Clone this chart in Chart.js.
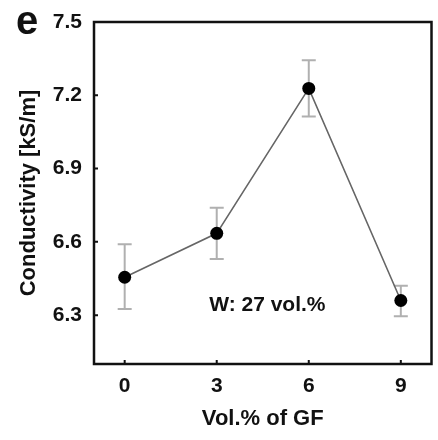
<!DOCTYPE html>
<html>
<head>
<meta charset="utf-8">
<script src="https://cdn.jsdelivr.net/npm/chart.js@4"></script>
<style>
  html, body { margin: 0; padding: 0; background: #fff; overflow: hidden; }
  #wrap { width: 438px; height: 440px; position: relative; }
</style>
</head>
<body>
<div id="wrap"><canvas id="c"></canvas></div>
<script>
// values
const gfVol = [0, 3, 6, 9];
const conductivity = [6.455, 6.635, 7.228, 6.36];
const errLow = [0.13, 0.105, 0.115, 0.065];
const errHigh = [0.135, 0.105, 0.115, 0.06];
const yTicks = [6.3, 6.6, 6.9, 7.2, 7.5];
const xTicks = [0, 3, 6, 9];
const panelLetter = 'e';
const noteText = 'W: 27 vol.%';
const notePos = { x: 4.65, y: 6.34 };

const FONT = "'Liberation Sans', Arial, sans-serif";

// frame, inward ticks, error bars, labels
const decor = {
  id: 'decor',
  beforeDatasetsDraw(chart) {
    const { ctx, scales: { x, y } } = chart;
    ctx.save();
    ctx.strokeStyle = '#b0b0b0';
    ctx.lineWidth = 2;
    gfVol.forEach((v, i) => {
      const px = x.getPixelForValue(v);
      const top = y.getPixelForValue(conductivity[i] + errHigh[i]);
      const bot = y.getPixelForValue(conductivity[i] - errLow[i]);
      ctx.beginPath();
      ctx.moveTo(px, top); ctx.lineTo(px, bot);
      ctx.moveTo(px - 7, top); ctx.lineTo(px + 7, top);
      ctx.moveTo(px - 7, bot); ctx.lineTo(px + 7, bot);
      ctx.stroke();
    });
    ctx.restore();
  },
  afterDraw(chart) {
    const { ctx, chartArea: a, scales: { x, y } } = chart;
    ctx.save();
    ctx.strokeStyle = '#111';
    ctx.lineWidth = 2.5;
    ctx.strokeRect(a.left, a.top, a.right - a.left, a.bottom - a.top);
    ctx.lineWidth = 2;
    ctx.beginPath();
    xTicks.forEach(v => {
      const px = x.getPixelForValue(v);
      ctx.moveTo(px, a.bottom); ctx.lineTo(px, a.bottom - 4);
    });
    yTicks.forEach(v => {
      const py = y.getPixelForValue(v);
      ctx.moveTo(a.left, py); ctx.lineTo(a.left + 4, py);
    });
    ctx.stroke();

    ctx.fillStyle = '#111';
    ctx.font = 'bold 21px ' + FONT;
    ctx.textAlign = 'center';
    ctx.textBaseline = 'middle';
    ctx.fillText(noteText, x.getPixelForValue(notePos.x), y.getPixelForValue(notePos.y));

    ctx.font = 'bold 40px ' + FONT;
    ctx.fillText(panelLetter, 27, 23);
    ctx.restore();
  }
};

new Chart(document.getElementById('c'), {
  type: 'line',
  data: {
    datasets: [{
      data: gfVol.map((v, i) => ({ x: v, y: conductivity[i] })),
      borderColor: '#666',
      borderWidth: 1.6,
      pointRadius: 6.5,
      pointBackgroundColor: '#000',
      pointBorderColor: '#000',
      pointBorderWidth: 0,
      tension: 0,
      fill: false
    }]
  },
  options: {
    responsive: true,
    maintainAspectRatio: false,
    animation: false,
    devicePixelRatio: 1,
    layout: { padding: { top: 22, right: 1, left: 0, bottom: 0 } },
    plugins: { legend: { display: false }, tooltip: { enabled: false } },
    scales: {
      x: {
        type: 'linear',
        min: -1, max: 10,
        afterBuildTicks: s => { s.ticks = xTicks.map(v => ({ value: v })); },
        afterFit: s => { s.height = 76; s.paddingLeft = 0; s.paddingRight = 0; },
        grid: { display: false, drawTicks: false },
        border: { display: false },
        ticks: { padding: 10, color: '#111', font: { family: FONT, size: 21, weight: 'bold' } },
        title: {
          display: true, text: 'Vol.% of GF', color: '#111',
          font: { family: FONT, size: 22, weight: 'bold' },
          padding: { top: 0, bottom: 8 }
        }
      },
      y: {
        type: 'linear',
        min: 6.1, max: 7.5,
        afterBuildTicks: s => { s.ticks = yTicks.map(v => ({ value: v })); },
        afterFit: s => { s.width = 94; s.paddingTop = 0; s.paddingBottom = 0; },
        grid: { display: false, drawTicks: false },
        border: { display: false },
        ticks: {
          padding: 12, color: '#111',
          font: { family: FONT, size: 21, weight: 'bold' },
          callback: v => v.toFixed(1)
        },
        title: {
          display: true, text: 'Conductivity [kS/m]', color: '#111',
          font: { family: FONT, size: 22, weight: 'bold' },
          padding: { top: 16, bottom: 0 }
        }
      }
    }
  },
  plugins: [decor]
});
</script>
</body>
</html>
